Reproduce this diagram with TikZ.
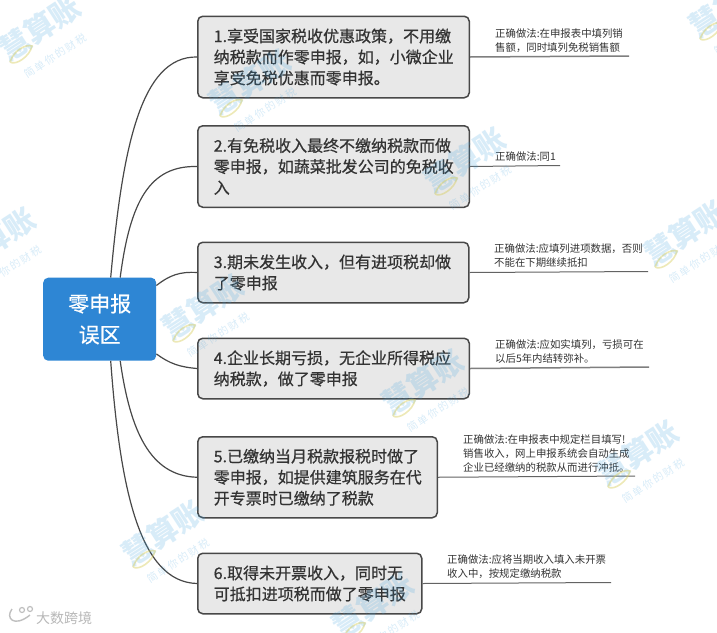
\documentclass[tikz,border=0pt]{standalone}
\usepackage{fontspec}
\setmainfont{Noto Sans CJK SC}
\newfontfamily\heavyfont[RawFeature={embolden=0.6}]{Noto Sans CJK SC}
\definecolor{rootblue}{HTML}{2E86D4}
\definecolor{boxfill}{HTML}{E8E8E8}
\definecolor{boxline}{HTML}{484848}
\definecolor{inkc}{HTML}{333333}
\definecolor{wmblue}{HTML}{3FA2E0}
\definecolor{wmyellow}{HTML}{D8CF60}
\tikzset{
  x=1pt,y=-1pt,
  rootbox/.style={draw=none,fill=rootblue,rounded corners=5pt,text=white,align=center,anchor=north west,
    minimum width=113pt,minimum height=83pt,inner sep=0pt,font=\heavyfont\fontsize{21}{31}\selectfont},
  itembox/.style={draw=boxline,line width=1.5pt,fill=boxfill,rounded corners=5pt,text=inkc,align=left,anchor=north west,
    inner xsep=16pt,inner ysep=0pt,font=\heavyfont\fontsize{16}{21}\selectfont,text width=#1-32pt,minimum width=#1},
  notetext/.style={anchor=south west,inner sep=0pt,align=left,text=inkc,font=\fontsize{10.4}{14}\selectfont},
  link/.style={line width=1.2pt,draw=boxline},
  notelink/.style={line width=1pt,draw=boxline!85},
  notelinkb/.style={line width=1.5pt,draw=boxline!70},
  wmmain/.style={text=wmblue,opacity=.2,rotate=33,font=\fontsize{30}{30}\selectfont\bfseries,inner sep=0pt},
  wmsub/.style={text=wmblue,opacity=.2,rotate=33,font=\fontsize{10.5}{11}\selectfont,inner sep=0pt},
  wmswoosh/.style={draw=wmyellow,opacity=.45,line width=1.6pt},
}
\begin{document}
\begin{tikzpicture}
\useasboundingbox (0,0) rectangle (717,632);
\fill[white] (0,0) rectangle (717,632);

\node[rootbox] (root) at (43,277.5) {零申报\\误区};

\node[itembox=271.5pt,minimum height=81.5pt] (b1) at (197,15.5) {1.享受国家税收优惠政策，不用缴\\纳税款而作零申报，如，小微企业\\享受免税优惠而零申报。};
\node[itembox=271.5pt,minimum height=81.5pt] (b2) at (197,125) {2.有免税收入最终不缴纳税款而做\\零申报，如蔬菜批发公司的免税收\\入};
\node[itembox=271pt,minimum height=60.5pt] (b3) at (197,241.5) {3.期未发生收入，但有进项税却做\\了零申报};
\node[itembox=271.5pt,minimum height=60.5pt] (b4) at (197,337.5) {4.企业长期亏损，无企业所得税应\\纳税款，做了零申报};
\node[itembox=239.5pt,minimum height=81pt] (b5) at (197,436) {5.已缴纳当月税款报税时做了\\零申报，如提供建筑服务在代\\开专票时已缴纳了税款};
\node[itembox=224pt,minimum height=60.5pt] (b6) at (197,552.5) {6.取得未开票收入，同时无\\可抵扣进项税而做了零申报};

\node[notetext] (n1) at (495,52.5) {正确做法:在申报表中填列销\\售额，同时填列免税销售额};
\node[notetext] (n2) at (495,162) {正确做法:同1};
\node[notetext] (n3) at (494,268) {正确做法:应填列进项数据，否则\\不能在下期继续抵扣};
\node[notetext] (n4) at (495,363.5) {正确做法:应如实填列，亏损可在\\以后5年内结转弥补。};
\node[notetext] (n5) at (463,472.5) {正确做法:在申报表中规定栏目填写!\\销售收入，网上申报系统会自动生成\\企业已经缴纳的税款从而进行冲抵。};
\node[notetext] (n6) at (447,579) {正确做法:应将当期收入填入未开票\\收入中，按规定缴纳税款};

\coordinate (e1) at (629,56);
\coordinate (e2) at (560,165.5);
\coordinate (e3) at (648,271.5);
\coordinate (e4) at (649,367);
\coordinate (e5) at (635,476);
\coordinate (e6) at (611,582.5);

\draw[notelinkb] (b1.east) -- (e1);
\draw[notelink] (b2.east) -- (e2);
\draw[notelink] (b3.east) -- (e3);
\draw[notelinkb] (b4.east) -- (e4);
\draw[notelink] (b5.east) -- (e5);
\draw[notelink] (b6.east) -- (e6);

\draw[link] ([xshift=11pt]root.north) .. controls +(11.5,-127) and (140,56) .. (b1.west);
\draw[link] ([xshift=20.5pt]root.north) .. controls +(10,-77) and (150,165.5) .. (b2.west);
\draw[link] ([yshift=-8pt]root.north east) .. controls +(13.5,-10.5) and (180,271.5) .. (b3.west);
\draw[link] ([yshift=7pt]root.south east) .. controls +(13.5,10) and (180,367) .. (b4.west);
\draw[link] ([xshift=20.5pt]root.south) .. controls +(10,70) and (150,476) .. (b5.west);
\draw[link] ([xshift=11pt]root.south) .. controls +(9.5,130) and (140,582) .. (b6.west);

\begin{scope}
\clip (0,0) rectangle (717,632);
\foreach \i/\x/\y in {a/40/28,b/250/82,c/-5/240,d/203/307,e/465/160,f/685/233,g/730/5,h/423/382,i/638/453,j/163/533,k/373/605}{
  \node[wmmain] (wm\i) at (\x,\y) {慧算账};
  \node[wmsub] (ws\i) at (\x+15,\y+28) {简\,单\,你\,的\,财\,税};
  \draw[wmswoosh] (\x-30,\y+34) .. controls (\x-26,\y+22) and (\x-14,\y+16) .. (\x-8,\y+18) .. controls (\x-10,\y+28) and (\x-24,\y+38) .. (\x-30,\y+34);
}
\end{scope}

\node[anchor=west,inner sep=0pt,text=black!28,font=\fontsize{14}{14}\selectfont] (brand) at (36,618) {大数跨境};
\coordinate (ic1) at (12,609);
\coordinate (ic2) at (30,615);
\draw[black!25,line width=1.4pt] (ic1) .. controls (5,618) and (14,628) .. (ic2);
\draw[black!25,line width=1.2pt] (22,610) circle (2.5);
\draw[black!25,line width=1.2pt] (30,609) circle (2.5);
\end{tikzpicture}
\end{document}
